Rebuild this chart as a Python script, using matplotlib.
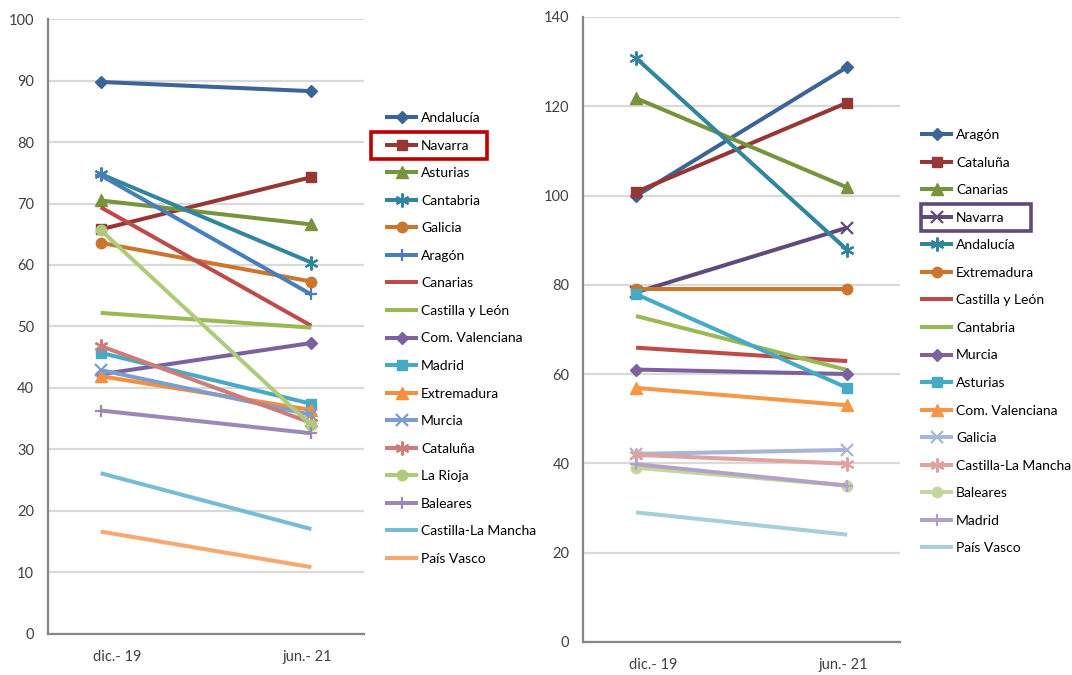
import matplotlib
matplotlib.use("Agg")
import matplotlib.pyplot as plt
from matplotlib.patches import Rectangle

plt.rcParams['font.family'] = ['Lato', 'DejaVu Sans']

periods = ["dic.- 19", "jun.- 21"]

# Left chart
left_names = ["Andalucía", "Navarra", "Asturias", "Cantabria", "Galicia", "Aragón",
              "Canarias", "Castilla y León", "Com. Valenciana", "Madrid", "Extremadura",
              "Murcia", "Cataluña", "La Rioja", "Baleares", "Castilla-La Mancha", "País Vasco"]
left_dic = [89.8, 65.8, 70.5, 74.8, 63.6, 74.6, 69.4, 52.2, 42.2, 45.7, 41.9, 42.9, 46.8, 65.7, 36.3, 26.1, 16.6]
left_jun = [88.3, 74.3, 66.6, 60.4, 57.3, 55.2, 50.1, 49.8, 47.3, 37.4, 36.4, 35.6, 34.3, 33.9, 32.6, 17.0, 10.8]

# Right chart
right_names = ["Aragón", "Cataluña", "Canarias", "Navarra", "Andalucía", "Extremadura",
               "Castilla y León", "Cantabria", "Murcia", "Asturias", "Com. Valenciana",
               "Galicia", "Castilla-La Mancha", "Baleares", "Madrid", "País Vasco"]
right_dic = [99.9, 100.8, 121.8, 78.3, 130.8, 79.0, 65.9, 73.0, 61.0, 77.9, 56.9, 42.1, 41.9, 39.0, 39.8, 29.0]
right_jun = [128.8, 120.8, 101.8, 92.8, 87.8, 79.0, 62.9, 60.9, 60.0, 56.9, 53.0, 43.0, 39.9, 35.0, 35.0, 24.0]

left_styles = [
    ('#3C6496', 'D'), ('#953735', 's'), ('#77933C', '^'), ('#31859C', 'ast'),
    ('#CB762F', 'o'), ('#4A7EBB', '+'), ('#BE4B48', None), ('#98B954', None),
    ('#7D60A0', 'D'), ('#46AAC5', 's'), ('#F38F3F', '^'), ('#7D9ECD', 'x'),
    ('#CF7B79', 'ast'), ('#AECB7B', 'o'), ('#9C88B7', '+'), ('#76BDD3', None),
    ('#F8A770', None)]
right_styles = [
    ('#3C6496', 'D'), ('#953735', 's'), ('#77933C', '^'), ('#604A7B', 'x'),
    ('#31859C', 'ast'), ('#CB762F', 'o'), ('#BE4B48', None), ('#98B954', None),
    ('#7D60A0', 'D'), ('#46AAC5', 's'), ('#F79646', '^'), ('#A5B6D8', 'x'),
    ('#DCA3A2', 'ast'), ('#C3D69B', 'o'), ('#B3A2C7', '+'), ('#A5CFDB', None)]

W, H = 1072, 675
fig = plt.figure(figsize=(W / 100, H / 100), dpi=100)

ax1 = fig.add_axes([48 / W, 1 - 633.5 / H, 316 / W, 614.2 / H])
ax2 = fig.add_axes([583.3 / W, 1 - 641.8 / H, 316.7 / W, 624.8 / H])


def draw(ax, names, dic, jun, styles, ymax, step):
    xs = [0, 1]
    for name, a, b, (c, m) in zip(names, dic, jun, styles):
        kw = dict(color=c, lw=2.9, solid_capstyle='butt', label=name)
        if m is None:
            ax.plot(xs, [a, b], **kw)
        elif m in ('+', 'x'):
            ax.plot(xs, [a, b], marker=m, ms=9, mew=1.6, **kw)
        elif m == 'ast':
            ax.plot(xs, [a, b], marker=(6, 2, 0), ms=10, mew=1.6, **kw)
        elif m == 'D':
            ax.plot(xs, [a, b], marker='D', ms=6.5, mec=c, **kw)
        elif m == '^':
            ax.plot(xs, [a, b], marker='^', ms=8, mec=c, **kw)
        else:
            ax.plot(xs, [a, b], marker=m, ms=7.5, mec=c, **kw)
    ax.set_xlim(-0.25, 1.25)
    ax.set_ylim(0, ymax)
    ax.set_yticks(range(0, ymax + 1, step))
    # category labels sit slightly inward of the points, as in the original
    ax.set_xticks([0.08, 0.98])
    ax.set_xticklabels(periods)
    ax.grid(axis='y', color='#D9D9D9', lw=1.6)
    ax.set_axisbelow(True)
    for s in ('top', 'right'):
        ax.spines[s].set_visible(False)
    for s in ('left', 'bottom'):
        ax.spines[s].set_color('#868686')
        ax.spines[s].set_linewidth(1.6)
    ax.tick_params(axis='both', length=0, labelsize=10.5, colors='#404040')
    ax.tick_params(axis='y', pad=10)
    ax.tick_params(axis='x', pad=12)
    leg = ax.legend(loc='upper left', frameon=False, fontsize=10,
                    handlelength=2.4, handletextpad=0.2, labelspacing=1.12,
                    borderaxespad=0, borderpad=0)
    return leg


leg1 = draw(ax1, left_names, left_dic, left_jun, left_styles, 100, 10)
leg2 = draw(ax2, right_names, right_dic, right_jun, right_styles, 140, 20)
leg1.set_bbox_to_anchor((385 / W, 1 - 112 / H), transform=fig.transFigure)
leg2.set_bbox_to_anchor((920 / W, 1 - 129 / H), transform=fig.transFigure)

fig.canvas.draw()
r = fig.canvas.get_renderer()


def box(leg, name, color, lpad, rpad):
    texts = leg.get_texts()
    idx = [t.get_text() for t in texts].index(name)
    tb = texts[idx].get_window_extent(r)
    hb = leg.legend_handles[idx].get_window_extent(r)
    yc = (tb.y0 + tb.y1) / 2
    x0 = hb.x0 - lpad
    x1 = tb.x1 + rpad
    rect = Rectangle((x0 / W, (yc - 13.5) / H), (x1 - x0) / W, 27 / H,
                     transform=fig.transFigure, fill=False, edgecolor=color, lw=2.6)
    fig.add_artist(rect)


box(leg1, "Navarra", '#C00000', 9, 17)
box(leg2, "Navarra", '#5F497A', -7, 26)

fig.savefig("out.png", dpi=100)
